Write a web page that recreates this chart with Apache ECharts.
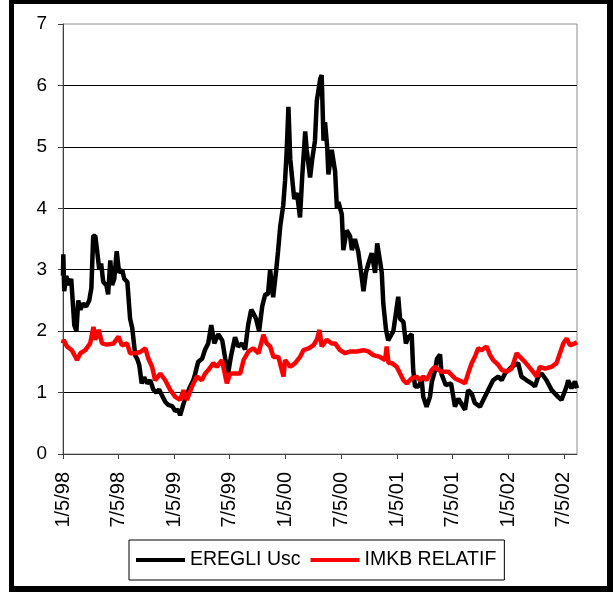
<!DOCTYPE html>
<html>
<head>
<meta charset="utf-8">
<script src="https://cdn.jsdelivr.net/npm/echarts@6/dist/echarts.min.js"></script>
<style>
  html, body { margin: 0; padding: 0; background: #fff; }
  #chart { position: absolute; left: 0; top: 0; width: 613px; height: 592px; }
  #frame { position: absolute; left: 9px; top: 0; width: 604px; height: 592px; box-sizing: border-box;
           border-style: solid; border-color: #000; border-width: 4px 6px 6px 5px; pointer-events: none; }
</style>
</head>
<body>
<div id="chart"></div>
<div id="frame"></div>
<script>
const startDate = '1998-01-05';
const tickDates = ['1998-01-05','1998-07-05','1999-01-05','1999-07-05','2000-01-05','2000-07-05','2001-01-05','2001-07-05','2002-01-05','2002-07-05'];
const tickLabels = ['1/5/98','7/5/98','1/5/99','7/5/99','1/5/00','7/5/00','1/5/01','7/5/01','1/5/02','7/5/02'];

const ereglDates = [
'1998-01-05','1998-01-06','1998-01-09','1998-01-16','1998-01-22','1998-02-01','1998-02-11','1998-02-18','1998-02-24','1998-03-03',
'1998-03-12','1998-03-22','1998-04-01','1998-04-08','1998-04-14','1998-04-21','1998-04-27','1998-05-04','1998-05-10','1998-05-17',
'1998-05-27','1998-06-02','1998-06-09','1998-06-15','1998-06-22','1998-06-30','1998-07-08','1998-07-18','1998-07-25','1998-08-04',
'1998-08-13','1998-08-20','1998-08-30','1998-09-05','1998-09-12','1998-09-20','1998-09-28','1998-10-08','1998-10-18','1998-10-28',
'1998-11-07','1998-11-16','1998-11-26','1998-12-06','1998-12-16','1998-12-29','1999-01-08','1999-01-18','1999-01-24','1999-02-03',
'1999-02-13','1999-02-26','1999-03-08','1999-03-14','1999-03-24','1999-04-06','1999-04-16','1999-04-26','1999-05-06','1999-05-16',
'1999-05-29','1999-06-11','1999-06-21','1999-06-30','1999-07-10','1999-07-23','1999-08-02','1999-08-15','1999-08-25','1999-09-04',
'1999-09-14','1999-09-20','1999-09-30','1999-10-10','1999-10-20','1999-10-30','1999-11-08','1999-11-15','1999-11-25','1999-12-05',
'1999-12-11','1999-12-18','1999-12-28','2000-01-03','2000-01-08','2000-01-14','2000-01-20','2000-01-26','2000-02-02','2000-02-11',
'2000-02-21','2000-02-28','2000-03-09','2000-03-14','2000-03-25','2000-04-01','2000-04-10','2000-04-16','2000-04-27','2000-05-02',
'2000-05-08','2000-05-13','2000-05-20','2000-05-24','2000-06-04','2000-06-15','2000-06-21','2000-06-26','2000-07-07','2000-07-12',
'2000-07-23','2000-08-03','2000-08-09','2000-08-19','2000-08-30','2000-09-10','2000-09-16','2000-09-24','2000-10-02','2000-10-13',
'2000-10-24','2000-10-31','2000-11-09','2000-11-15','2000-11-20','2000-11-29','2000-12-06','2000-12-23','2001-01-08','2001-01-14',
'2001-01-25','2001-02-02','2001-02-10','2001-02-21','2001-02-26','2001-03-04','2001-03-15','2001-03-26','2001-03-31','2001-04-11',
'2001-04-22','2001-04-28','2001-05-08','2001-05-15','2001-05-25','2001-05-30','2001-06-13','2001-06-30','2001-07-13','2001-07-24',
'2001-08-15','2001-08-25','2001-09-06','2001-09-16','2001-10-03','2001-10-19','2001-10-30','2001-11-15','2001-12-02','2001-12-13',
'2001-12-24','2002-01-15','2002-02-05','2002-02-16','2002-03-05','2002-03-21','2002-04-01','2002-04-12','2002-04-23','2002-05-09',
'2002-05-26','2002-06-16','2002-06-27','2002-07-14','2002-07-19','2002-07-30','2002-08-10','2002-08-17'];
const ereglValues = [
2.9,3.25,2.65,2.9,2.75,2.85,2.1,2.0,2.5,2.35,
2.45,2.4,2.5,2.7,3.55,3.55,3.3,3.0,3.1,2.8,
2.75,2.6,3.15,2.75,2.85,3.3,2.95,3.0,2.85,2.8,
2.2,2.05,1.6,1.55,1.45,1.15,1.25,1.15,1.2,1.05,
1.0,1.05,0.95,0.85,0.8,0.78,0.7,0.72,0.63,0.8,
0.95,1.1,1.2,1.3,1.5,1.55,1.7,1.8,2.1,1.8,
1.95,1.85,1.55,1.3,1.6,1.9,1.75,1.8,1.7,2.1,
2.35,2.3,2.2,2.0,2.4,2.6,2.6,3.0,2.55,3.0,
3.3,3.7,4.05,4.45,4.9,5.65,4.8,4.5,4.15,4.25,
3.85,4.5,5.25,4.95,4.5,4.8,5.1,5.75,6.1,6.17,
5.1,5.4,5.0,4.55,4.95,4.6,4.0,4.1,3.9,3.32,
3.64,3.55,3.32,3.5,3.29,2.89,2.65,2.95,3.1,3.27,
2.95,3.43,3.15,2.95,2.45,2.02,1.85,2.0,2.56,2.2,
2.15,1.8,1.9,1.95,1.37,1.1,1.1,1.2,0.93,0.77,
0.93,1.17,1.35,1.55,1.62,1.3,1.12,1.15,0.77,0.9,
0.72,1.04,0.98,0.83,0.77,0.93,1.04,1.2,1.26,1.2,
1.31,1.42,1.48,1.26,1.2,1.15,1.1,1.26,1.31,1.2,
1.04,0.93,0.88,1.1,1.2,1.07,1.18,1.07];

const imkbDates = [
'1998-01-05','1998-01-07','1998-01-18','1998-02-03','1998-02-20','1998-03-03','1998-03-19','1998-04-04','1998-04-15','1998-04-21',
'1998-05-02','1998-05-13','1998-05-29','1998-06-20','1998-07-06','1998-07-17','1998-08-03','1998-08-13','1998-08-30','1998-09-15',
'1998-10-02','1998-10-12','1998-10-24','1998-11-03','1998-11-20','1998-12-06','1998-12-23','1999-01-08','1999-01-24','1999-02-04',
'1999-02-15','1999-03-04','1999-03-20','1999-04-05','1999-04-16','1999-04-27','1999-05-13','1999-05-24','1999-06-10','1999-06-26',
'1999-07-07','1999-07-23','1999-08-09','1999-08-20','1999-09-05','1999-09-21','1999-10-08','1999-10-24','1999-11-04','1999-11-15',
'1999-11-26','1999-12-12','1999-12-18','1999-12-29','2000-01-03','2000-01-20','2000-02-05','2000-02-21','2000-03-03','2000-03-20',
'2000-04-05','2000-04-16','2000-04-25','2000-05-02','2000-05-19','2000-06-04','2000-06-15','2000-07-01','2000-07-18','2000-08-03',
'2000-08-25','2000-09-16','2000-10-02','2000-10-18','2000-11-09','2000-11-26','2000-12-01','2000-12-07','2000-12-18','2001-01-03',
'2001-01-14','2001-01-25','2001-02-05','2001-02-21','2001-03-10','2001-03-20','2001-03-31','2001-04-11','2001-04-28','2001-05-09',
'2001-05-19','2001-05-30','2001-06-21','2001-07-13','2001-08-04','2001-08-15','2001-08-25','2001-09-06','2001-09-16','2001-09-27',
'2001-10-08','2001-10-25','2001-11-05','2001-11-15','2001-12-02','2001-12-13','2001-12-29','2002-01-15','2002-01-31','2002-02-11',
'2002-02-27','2002-03-21','2002-04-07','2002-04-17','2002-05-04','2002-05-26','2002-06-11','2002-06-22','2002-07-03','2002-07-14',
'2002-07-25','2002-08-10','2002-08-17'];
const imkbValues = [
1.8,1.86,1.75,1.69,1.53,1.64,1.69,1.80,2.07,1.86,
2.02,1.80,1.78,1.80,1.91,1.77,1.80,1.64,1.64,1.66,
1.72,1.55,1.42,1.20,1.31,1.20,1.04,0.93,0.88,1.04,
0.88,1.10,1.26,1.20,1.31,1.37,1.48,1.42,1.53,1.15,
1.31,1.31,1.31,1.53,1.67,1.72,1.64,1.94,1.80,1.75,
1.58,1.58,1.58,1.26,1.53,1.42,1.48,1.58,1.69,1.72,
1.77,1.86,2.02,1.75,1.86,1.80,1.80,1.69,1.64,1.67,
1.67,1.69,1.67,1.61,1.58,1.53,1.75,1.48,1.48,1.42,
1.31,1.20,1.15,1.23,1.26,1.20,1.26,1.20,1.37,1.42,
1.37,1.34,1.34,1.23,1.18,1.15,1.31,1.48,1.58,1.72,
1.69,1.75,1.61,1.53,1.45,1.37,1.34,1.39,1.64,1.58,
1.50,1.37,1.26,1.42,1.39,1.42,1.48,1.64,1.80,1.88,
1.77,1.80,1.82];

const DAY = 86400000;
const t0 = Date.parse(startDate);
const off = d => Math.round((Date.parse(d) - t0) / DAY);
const tickOffsets = tickDates.map(off);
const xMax = off(ereglDates[ereglDates.length - 1]);
const FONT = "'Liberation Sans', Arial, sans-serif";

const chart = echarts.init(document.getElementById('chart'), null, { renderer: 'canvas' });
chart.setOption({
  animation: false,
  backgroundColor: '#ffffff',
  grid: { left: 63, top: 24, right: 36, bottom: 138, show: true, borderColor: '#8c8c8c', borderWidth: 1, backgroundColor: 'transparent' },
  xAxis: {
    type: 'value', min: 0, max: xMax,
    axisLine: { lineStyle: { color: '#404040', width: 1 } },
    axisTick: { show: true, length: 5, lineStyle: { color: '#404040' }, customValues: tickOffsets },
    axisLabel: {
      customValues: tickOffsets, rotate: 90, margin: 18, fontSize: 20, color: '#000', fontFamily: FONT,
      formatter: v => { const i = tickOffsets.indexOf(Math.round(v)); return i >= 0 ? tickLabels[i] : ''; }
    },
    splitLine: { show: false }
  },
  yAxis: {
    type: 'value', min: 0, max: 7, interval: 1,
    axisLine: { show: true, lineStyle: { color: '#404040', width: 1 } },
    axisTick: { show: true, length: 5, lineStyle: { color: '#404040' } },
    axisLabel: { margin: 16, fontSize: 19, color: '#000', fontFamily: FONT },
    splitLine: { show: true, showMinLine: false, showMaxLine: false, lineStyle: { color: '#000', width: 1 } }
  },
  legend: {
    left: 129, top: 540, orient: 'horizontal',
    data: ['EREGLI Usc', 'IMKB RELATIF'],
    icon: 'rect', itemWidth: 49, itemHeight: 4, itemGap: 10,
    padding: [10, 8, 10, 7],
    borderColor: '#000', borderWidth: 1, backgroundColor: '#fff',
    textStyle: { fontSize: 19.5, color: '#000', fontFamily: FONT }
  },
  series: [
    { name: 'EREGLI Usc', type: 'line', showSymbol: false, symbol: 'none',
      itemStyle: { color: '#000' }, lineStyle: { color: '#000', width: 4.5 },
      data: ereglDates.map((d, i) => [off(d), ereglValues[i]]) },
    { name: 'IMKB RELATIF', type: 'line', showSymbol: false, symbol: 'none',
      itemStyle: { color: '#ff0000' }, lineStyle: { color: '#ff0000', width: 4.5 },
      data: imkbDates.map((d, i) => [off(d), imkbValues[i]]) }
  ]
});
</script>
</body>
</html>
